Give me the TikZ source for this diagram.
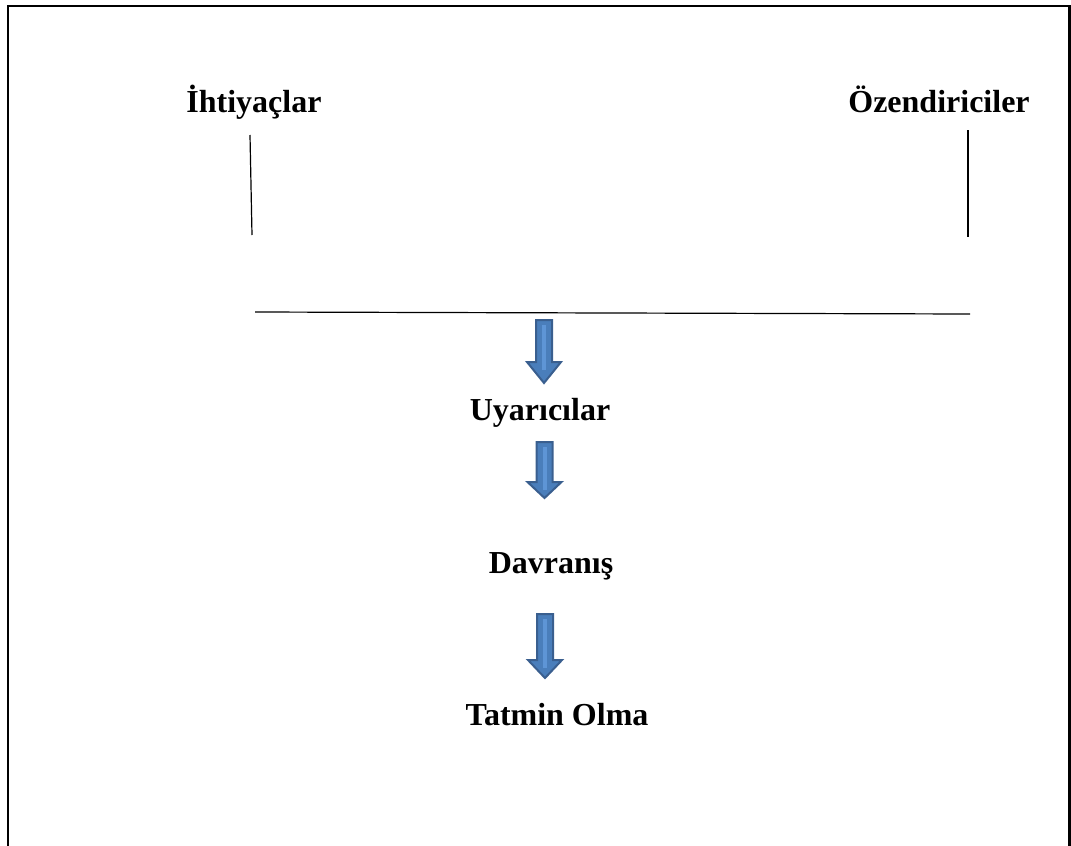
\documentclass[tikz,border=0pt]{standalone}
\usepackage{fontspec}
\setmainfont{Liberation Serif}
\definecolor{arrfill}{HTML}{4A7EBB}
\definecolor{arrdraw}{HTML}{3A5F8F}
\definecolor{arrlight}{HTML}{5E95D6}
\newcommand{\blockarrow}[5]{% center x, top y, head y, tip y, name
  \fill[arrfill,draw=arrdraw,line width=1.5] (#1-8,#2) -- (#1+8,#2) -- (#1+8,#3) -- (#1+17,#3) -- (#1,#4) -- (#1-17,#3) -- (#1-8,#3) -- cycle;
  \fill[arrlight] (#1-2,#2+5) rectangle (#1+2,#3+8);
  \coordinate (#5) at (#1,#2);
}
\begin{document}
\begin{tikzpicture}[x=0.75pt,y=-0.75pt,
  lbl/.style={font=\fontsize{24}{29}\selectfont\bfseries, anchor=base, inner sep=0pt},
  thin line/.style={line width=0.9pt, black}]
\useasboundingbox (0,0) rectangle (1071,846);
\draw[line width=1.6pt] (8,850) -- (8,6) -- (1069.5,6) -- (1069.5,850);

\node[lbl] (ihti) at (254,112) {İhtiyaçlar};
\node[lbl] (ozen) at (939,112) {Özendiriciler};
\node[lbl] (uyar) at (540,420) {Uyarıcılar};
\node[lbl] (davr) at (551,573) {Davranış};
\node[lbl] (tatm) at (557,725) {Tatmin Olma};

\coordinate (l1) at (250,135);
\coordinate (l2) at (252,235);
\coordinate (r1) at (968,130);
\coordinate (r2) at (968,237);
\coordinate (h1) at (255,312);
\coordinate (h2) at (970,314);
\draw[thin line] (l1) -- (l2);
\draw[thin line] (r1) -- (r2);
\draw[thin line] (h1) -- (h2);

\blockarrow{544}{320}{362}{383}{a1}
\blockarrow{544.5}{442}{482}{498}{a2}
\blockarrow{545}{614}{660}{678}{a3}
\end{tikzpicture}
\end{document}
